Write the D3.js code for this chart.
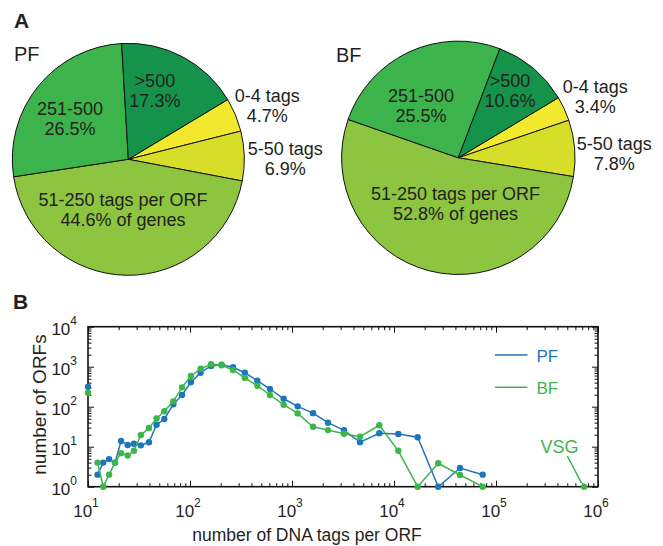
<!DOCTYPE html>
<html>
<head>
<meta charset="utf-8">
<script src="https://cdn.jsdelivr.net/npm/d3@7"></script>
<style>
  body { margin: 0; background: #fff; }
  svg { display: block; font-family: "Liberation Sans", Arial, Helvetica, sans-serif; }
</style>
</head>
<body>
<div id="content"></div>
<script>
// pie data (percent of genes)
var categories = ["0-4 tags", "5-50 tags", "51-250 tags per ORF", "251-500", ">500"];
var pfShare = [4.7, 6.9, 44.6, 26.5, 17.3];
var bfShare = [3.4, 7.8, 52.8, 25.5, 10.6];

// distribution: tags per ORF (bin) vs number of ORFs
var tagBins = [12.4, 14.1, 16.1, 18.4, 21.1, 24.5, 28.2, 33, 39.6, 47, 56, 68.7, 83.5, 102, 127, 161, 204,
               264, 345, 457, 608, 828, 1137, 1607, 2254, 3236, 4645, 7178, 11020, 17060, 27150, 44400, 74100];
var pfCounts = [2.0, 4.0, 4.9, 4.0, 13.9, 11, 11.9, 10.8, 12.9, 35.5, 49.3, 115, 196, 407, 708, 1047, 1122,
                966, 708, 447, 277, 158, 102, 69, 39.8, 25.7, 13, 21.6, 20.8, 17.2, 1, 2.93, 2];
var bfCounts = [4.0, 1, 2.0, 4.0, 6.9, 6.0, 7.9, 19.6, 29.3, 51, 77, 136, 305, 587, 891, 1148, 1084,
                830, 525, 335, 196, 112, 68, 31.6, 26, 21, 17.8, 34.3, 7.9, 1, 3.85, 1.96, 1];
// separate points: first bin drawn on the axis, and the VSG point
var pfFirst = [10, 316];
var bfFirst = [10, 224];
var vsgPoint = [730000, 1];

var xTickExp = [1, 2, 3, 4, 5, 6];
var yTickExp = [0, 1, 2, 3, 4];

var W = 663, H = 546;
var textCol = "#231f20";
var pieColors = ["#f2e92e", "#d6de2a", "#8dc540", "#3cb44b", "#15934b"];
var blue = "#1d76bd", green = "#3cb54b";

var svg = d3.select("#content").append("svg")
    .attr("width", W)
    .attr("height", H);
svg.append("rect").attr("width", W).attr("height", H).attr("fill", "#fff");

//Panel letters
svg.append("text").attr("x", 14).attr("y", 28).attr("font-size", 21).attr("font-weight", "bold")
    .attr("fill", textCol).text("A");
svg.append("text").attr("x", 13).attr("y", 309).attr("font-size", 21).attr("font-weight", "bold")
    .attr("fill", textCol).text("B");

//PIES
var deg = Math.PI / 180;
var pies = [
  {name: "PF", values: pfShare, cx: 128.3, cy: 159.3, r: 116, nx: 14, ny: 61,
   // label placement: [radius, angle nudge in degrees]
   lab: [[149, 1.3], [157, 1.4], [50.5, 5], [71.4, -3.7], [73.3, -6.6]]},
  {name: "BF", values: bfShare, cx: 458.3, cy: 157.8, r: 116.7, nx: 336, ny: 61.5,
   lab: [[150, 0.8], [156, 3.2], [46, -10.8], [64.3, -10.4], [85.2, -2.5]]}
];

var pie = d3.pie().sort(null).value(function(d){ return d; })
    .startAngle(59 * deg).endAngle(59 * deg + 2 * Math.PI);

pies.forEach(function(p){
  var g = svg.append("g").attr("transform", "translate(" + p.cx + "," + p.cy + ")");
  var arc = d3.arc().innerRadius(0).outerRadius(p.r);
  var arcs = pie(p.values);

  g.selectAll("path").data(arcs).enter().append("path")
      .attr("d", arc)
      .attr("fill", function(d, i){ return pieColors[i]; })
      .attr("stroke", "#111")
      .attr("stroke-width", 1)
      .attr("stroke-linejoin", "round");

  var lg = g.selectAll("text.lab").data(arcs).enter().append("text")
      .attr("class", "lab")
      .attr("font-size", 18)
      .attr("fill", textCol)
      .attr("text-anchor", "middle")
      .attr("transform", function(d, i){
        var a = (d.startAngle + d.endAngle) / 2 + p.lab[i][1] * deg;
        var rr = p.lab[i][0];
        return "translate(" + (Math.sin(a) * rr) + "," + (-Math.cos(a) * rr) + ")";
      });
  lg.append("tspan").attr("x", 0).attr("y", -3.5)
      .text(function(d, i){ return categories[i]; });
  lg.append("tspan").attr("x", 0).attr("y", 16.5)
      .text(function(d, i){ return d.data.toFixed(1) + "%" + (i === 2 ? " of genes" : ""); });

  svg.append("text").attr("x", p.nx).attr("y", p.ny).attr("font-size", 20)
      .attr("fill", textCol).text(p.name);
});

//LINE CHART
var x = d3.scaleLog().domain([10, 1e6]).range([88, 598]);
var y = d3.scaleLog().domain([1, 1e4]).range([486.7, 326.7]);
var x0 = x.range()[0], x1 = x.range()[1], y0 = y.range()[0], y1 = y.range()[1];

var chart = svg.append("g");

var majorX = xTickExp.map(function(e){ return Math.pow(10, e); });
var majorY = yTickExp.map(function(e){ return Math.pow(10, e); });
var minorX = [], minorY = [];
majorX.slice(0, -1).forEach(function(v){ for (var k = 2; k < 10; k++) minorX.push(k * v); });
majorY.slice(0, -1).forEach(function(v){ for (var k = 2; k < 10; k++) minorY.push(k * v); });

function tickSet(axisFn, scale, vals, size, tr){
  chart.append("g").attr("transform", tr)
      .call(axisFn(scale).tickValues(vals).tickSize(size).tickFormat(""))
      .call(function(g){ g.select(".domain").remove(); g.selectAll("line").attr("stroke", "#111"); });
}
tickSet(d3.axisBottom, x, minorX, -3.5, "translate(0," + y0 + ")");
tickSet(d3.axisBottom, x, majorX, -6, "translate(0," + y0 + ")");
tickSet(d3.axisTop, x, minorX, -3.5, "translate(0," + y1 + ")");
tickSet(d3.axisTop, x, majorX, -6, "translate(0," + y1 + ")");
tickSet(d3.axisLeft, y, minorY, -3.5, "translate(" + x0 + ",0)");
tickSet(d3.axisLeft, y, majorY, -6, "translate(" + x0 + ",0)");
tickSet(d3.axisRight, y, minorY, -3.5, "translate(" + x1 + ",0)");
tickSet(d3.axisRight, y, majorY, -6, "translate(" + x1 + ",0)");

chart.append("rect")
    .attr("x", x0).attr("y", y1)
    .attr("width", x1 - x0).attr("height", y0 - y1)
    .attr("fill", "none").attr("stroke", "#111").attr("stroke-width", 1.6);

//tick labels
var xl = chart.selectAll("text.xl").data(xTickExp).enter().append("text")
    .attr("class", "xl").attr("font-size", 17).attr("fill", textCol)
    .attr("text-anchor", "middle")
    .attr("x", function(e){ return x(Math.pow(10, e)) - 2; })
    .attr("y", y0 + 30.5);
xl.append("tspan").text("10");
xl.append("tspan").attr("font-size", 12).attr("dy", -10.3).text(function(e){ return e; });

var yl = chart.selectAll("text.yl").data(yTickExp).enter().append("text")
    .attr("class", "yl").attr("font-size", 17).attr("fill", textCol)
    .attr("text-anchor", "end")
    .attr("x", x0 - 11)
    .attr("y", function(e){ return y(Math.pow(10, e)) + 8.3; });
yl.append("tspan").text("10");
yl.append("tspan").attr("font-size", 12).attr("dy", -10).text(function(e){ return e; });

//axis titles
chart.append("text").attr("x", 307).attr("y", 540.5).attr("font-size", 17.5)
    .attr("text-anchor", "middle").attr("fill", textCol).text("number of DNA tags per ORF");
chart.append("text").attr("transform", "translate(46,404.5) rotate(-90)").attr("font-size", 19)
    .attr("text-anchor", "middle").attr("fill", textCol).text("number of ORFs");

//series
var series = [
  {name: "PF", color: blue, counts: pfCounts, first: pfFirst, ly: 355},
  {name: "BF", color: green, counts: bfCounts, first: bfFirst, ly: 387.3}
];
var line = d3.line()
    .x(function(d){ return x(d[0]); })
    .y(function(d){ return y(d[1]); });

series.forEach(function(s){
  var pts = tagBins.map(function(b, i){ return [b, s.counts[i]]; });
  chart.append("path").datum(pts)
      .attr("d", line)
      .attr("fill", "none")
      .attr("stroke", s.color)
      .attr("stroke-width", 1.5);
  chart.selectAll(null).data(pts.concat([s.first])).enter().append("circle")
      .attr("cx", function(d){ return x(d[0]); })
      .attr("cy", function(d){ return y(d[1]); })
      .attr("r", 3.2)
      .attr("fill", s.color);
  //legend
  chart.append("line").attr("x1", 495).attr("x2", 527.5).attr("y1", s.ly).attr("y2", s.ly)
      .attr("stroke", s.color).attr("stroke-width", 1.5);
  chart.append("text").attr("x", 536.5).attr("y", s.ly + 7).attr("font-size", 17)
      .attr("fill", s.color).text(s.name);
});

//VSG point and note
chart.append("circle").attr("cx", x(vsgPoint[0])).attr("cy", y(vsgPoint[1])).attr("r", 3.2).attr("fill", green);
chart.append("line")
    .attr("x1", 567.3).attr("y1", 456)
    .attr("x2", x(vsgPoint[0]) - 2.5).attr("y2", y(vsgPoint[1]) - 3.5)
    .attr("stroke", green).attr("stroke-width", 1.5);
chart.append("text").attr("x", 559.5).attr("y", 453.3).attr("font-size", 18)
    .attr("text-anchor", "middle").attr("fill", green).text("VSG");
</script>
</body>
</html>
